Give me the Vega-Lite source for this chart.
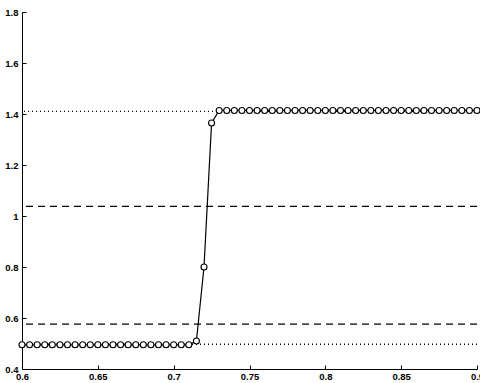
{
  "$schema": "https://vega.github.io/schema/vega-lite/v6.json",
  "width": 455,
  "height": 357,
  "autosize": {"type": "none"},
  "padding": {"left": 22, "top": 12, "right": 3, "bottom": 14},
  "background": "white",
  "config": {
    "view": {"stroke": null},
    "axis": {
      "grid": false,
      "domainColor": "black",
      "domainWidth": 1,
      "tickColor": "black",
      "tickSize": -4,
      "labelFont": "Liberation Sans",
      "labelFontWeight": "bold",
      "labelFontSize": 9.5,
      "labelColor": "black",
      "title": null
    }
  },
  "layer": [
    {
      "data": {"values": [
        {"y": 1.41, "kind": "dotted"},
        {"y": 0.497, "kind": "dotted"},
        {"y": 1.038, "kind": "dashed"},
        {"y": 0.576, "kind": "dashed"}
      ]},
      "mark": {"type": "rule", "color": "black", "strokeWidth": 1.3},
      "encoding": {
        "y": {"field": "y", "type": "quantitative", "scale": {"domain": [0.4, 1.8]}},
        "strokeDash": {
          "field": "kind", "type": "nominal",
          "scale": {"domain": ["dotted", "dashed"], "range": [[1, 3], [7, 5]]},
          "legend": null
        }
      }
    },
    {
      "data": {"values": [
        {"x": 0.600, "y": 0.495}, {"x": 0.605, "y": 0.495}, {"x": 0.610, "y": 0.495}, {"x": 0.615, "y": 0.495},
        {"x": 0.620, "y": 0.495}, {"x": 0.625, "y": 0.495}, {"x": 0.630, "y": 0.495}, {"x": 0.635, "y": 0.495},
        {"x": 0.640, "y": 0.495}, {"x": 0.645, "y": 0.495}, {"x": 0.650, "y": 0.495}, {"x": 0.655, "y": 0.495},
        {"x": 0.660, "y": 0.495}, {"x": 0.665, "y": 0.495}, {"x": 0.670, "y": 0.495}, {"x": 0.675, "y": 0.495},
        {"x": 0.680, "y": 0.495}, {"x": 0.685, "y": 0.495}, {"x": 0.690, "y": 0.495}, {"x": 0.695, "y": 0.495},
        {"x": 0.700, "y": 0.495}, {"x": 0.705, "y": 0.495}, {"x": 0.710, "y": 0.495},
        {"x": 0.715, "y": 0.51}, {"x": 0.720, "y": 0.80}, {"x": 0.725, "y": 1.365},
        {"x": 0.730, "y": 1.414}, {"x": 0.735, "y": 1.414}, {"x": 0.740, "y": 1.414}, {"x": 0.745, "y": 1.414},
        {"x": 0.750, "y": 1.414}, {"x": 0.755, "y": 1.414}, {"x": 0.760, "y": 1.414}, {"x": 0.765, "y": 1.414},
        {"x": 0.770, "y": 1.414}, {"x": 0.775, "y": 1.414}, {"x": 0.780, "y": 1.414}, {"x": 0.785, "y": 1.414},
        {"x": 0.790, "y": 1.414}, {"x": 0.795, "y": 1.414}, {"x": 0.800, "y": 1.414}, {"x": 0.805, "y": 1.414},
        {"x": 0.810, "y": 1.414}, {"x": 0.815, "y": 1.414}, {"x": 0.820, "y": 1.414}, {"x": 0.825, "y": 1.414},
        {"x": 0.830, "y": 1.414}, {"x": 0.835, "y": 1.414}, {"x": 0.840, "y": 1.414}, {"x": 0.845, "y": 1.414},
        {"x": 0.850, "y": 1.414}, {"x": 0.855, "y": 1.414}, {"x": 0.860, "y": 1.414}, {"x": 0.865, "y": 1.414},
        {"x": 0.870, "y": 1.414}, {"x": 0.875, "y": 1.414}, {"x": 0.880, "y": 1.414}, {"x": 0.885, "y": 1.414},
        {"x": 0.890, "y": 1.414}, {"x": 0.895, "y": 1.414}, {"x": 0.900, "y": 1.414}
      ]},
      "mark": {
        "type": "line",
        "color": "black",
        "strokeWidth": 1.2,
        "point": {"filled": false, "fill": "white", "stroke": "black", "strokeWidth": 1.1, "size": 36, "opacity": 1}
      },
      "encoding": {
        "x": {
          "field": "x", "type": "quantitative",
          "scale": {"domain": [0.6, 0.9], "nice": false, "zero": false},
          "axis": {"values": [0.6, 0.65, 0.7, 0.75, 0.8, 0.85, 0.9], "format": "~g", "labelPadding": 6, "labelFlush": false}
        },
        "y": {
          "field": "y", "type": "quantitative",
          "scale": {"domain": [0.4, 1.8], "nice": false, "zero": false},
          "axis": {"values": [0.4, 0.6, 0.8, 1, 1.2, 1.4, 1.6, 1.8], "format": "~g", "labelPadding": 8, "labelFlush": false}
        }
      }
    }
  ]
}
